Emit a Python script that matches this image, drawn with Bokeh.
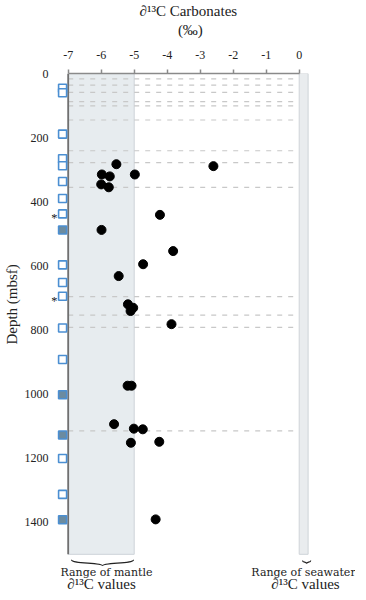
from bokeh.plotting import figure
from bokeh.models import Range1d, FixedTicker, Title
from bokeh.embed import file_html
from bokeh.resources import INLINE
from bokeh.core.properties import value

# ---------------- data ----------------
carb_d13c = [-5.54, -2.6, -5.98, -5.74, -4.98, -6.0, -5.77, -4.22, -5.99, -3.82,
             -4.73, -5.47, -5.19, -5.03, -5.11, -3.87, -5.2, -5.08, -5.61, -5.01,
             -4.74, -5.1, -4.24, -4.35]
carb_depth = [283, 289, 315, 321, 315, 346, 355, 441, 488, 554,
              595, 632, 720, 731, 741, 782, 974, 974, 1094, 1108,
              1110, 1152, 1149, 1391]

open_sample_depth = [46, 60, 189, 266, 288, 337, 390, 438, 597, 652, 695, 794, 892, 1201, 1313]
filled_sample_depth = [488, 1002, 1128, 1392]
asterisk_depth = [438, 695]

dashed_depth = [17, 36, 59, 88, 101, 145, 241, 278, 355, 696, 754, 792, 1115]

mantle_range = [-7, -5]
seawater_range = [0, 0.27]
depth_extent = [0, 1500]

x_ticks = [-7, -6, -5, -4, -3, -2, -1, 0]
x_tick_labels = ["-7", "-6", "-5", "-4", "-3", "-2", "-1", "0"]
y_ticks = [0, 200, 400, 600, 800, 1000, 1200, 1400]

SERIF = "Liberation Serif"
INK = "#222222"
NB = "\u00a0"

# ---------------- figure ----------------
p = figure(frame_width=304, frame_height=518, output_backend="svg", toolbar_location=None,
           x_range=Range1d(-7.506, 1.706), y_range=Range1d(1616, 0),
           x_axis_location="above", title=None,
           min_border_left=42, min_border_right=0, min_border_top=65, min_border_bottom=0)
p.outline_line_color = None
p.grid.visible = False

# top axis
xa = p.xaxis[0]
xa.bounds = (-7, 0)
xa.ticker = FixedTicker(ticks=x_ticks)
xa.major_label_overrides = {t: s for t, s in zip(x_ticks, x_tick_labels)}
xa.minor_tick_line_color = None
xa.major_tick_out = 4
xa.major_tick_in = 0
xa.axis_line_color = "#8a8a8a"
xa.axis_line_width = 1.5
xa.major_tick_line_color = "#8a8a8a"
xa.major_tick_line_width = 1.5
xa.major_label_text_font = SERIF
xa.major_label_text_font_size = "12px"
xa.major_label_text_color = INK
xa.major_label_standoff = 11
xa.axis_label = "(‰)" + NB * 7
xa.axis_label_text_font = SERIF
xa.axis_label_text_font_size = "15px"
xa.axis_label_text_font_style = "normal"
xa.axis_label_text_color = INK
xa.axis_label_standoff = 10

p.add_layout(Title(text="∂¹³C Carbonates", align="left", offset=88,
                   text_font=SERIF, text_font_size="15px", text_font_style="normal",
                   text_color=INK, standoff=0), "above")

# left axis
ya = p.yaxis[0]
ya.bounds = (0, 1440)
ya.ticker = FixedTicker(ticks=y_ticks)
ya.axis_line_color = None
ya.major_tick_line_color = None
ya.minor_tick_line_color = None
ya.major_tick_out = 0
ya.major_tick_in = 0
ya.major_label_text_font = SERIF
ya.major_label_text_font_size = "12px"
ya.major_label_text_color = INK
ya.major_label_standoff = 3
ya.axis_label = NB * 15 + "Depth (mbsf)"
ya.axis_label_text_font = SERIF
ya.axis_label_text_font_size = "15px"
ya.axis_label_text_font_style = "normal"
ya.axis_label_text_color = INK
ya.axis_label_standoff = 2

# shaded ranges
p.quad(left=[mantle_range[0]], right=[mantle_range[1]], top=[depth_extent[0]], bottom=[depth_extent[1]],
       fill_color="#e7ecef", line_color="#cdd3d8", line_width=1)
p.quad(left=[seawater_range[0]], right=[seawater_range[1]], top=[depth_extent[0]], bottom=[depth_extent[1]],
       fill_color="#e9ecee", line_color="#cfd4d8", line_width=1)

# dashed horizontal lines
p.segment(x0=[mantle_range[0]] * len(dashed_depth), y0=dashed_depth,
          x1=[-0.15] * len(dashed_depth), y1=dashed_depth,
          line_color="#c8c8c8", line_width=1.2, line_dash="5 6")

# left vertical rule at the start of the scale
p.segment(x0=[mantle_range[0]], y0=[depth_extent[0]], x1=[mantle_range[0]], y1=[depth_extent[1]],
          line_color="#707070", line_width=1.8)

# samples
p.scatter(x=[-7.17] * len(open_sample_depth), y=open_sample_depth, marker="square", size=8,
          fill_color="white", line_color="#4b8fd2", line_width=1.6)
p.scatter(x=[-7.17] * len(filled_sample_depth), y=filled_sample_depth, marker="square", size=8,
          fill_color="#6b8ba0", line_color="#4b8fd2", line_width=1.6)
p.text(x=[-7.42] * len(asterisk_depth), y=asterisk_depth, text=["*"] * len(asterisk_depth),
       text_font=value(SERIF), text_font_size="13px", text_align="center",
       text_baseline="middle", y_offset=4, text_color=INK)

# data points
p.scatter(x=carb_d13c, y=carb_depth, size=9, fill_color="black", line_color="black")

# braces
def brace(x_left, x_right, y_top, y_tip):
    xm = (x_left + x_right) / 2
    h = y_tip - y_top
    return dict(x0=[x_left, x_right], y0=[y_top, y_top], x1=[xm, xm], y1=[y_tip, y_tip],
                cx0=[x_left, x_right], cy0=[y_top + 0.75 * h] * 2,
                cx1=[xm, xm], cy1=[y_top + 0.35 * h] * 2)

b1 = brace(mantle_range[0] + 0.1, mantle_range[1] - 0.02, 1517, 1536)
p.bezier(line_color=INK, line_width=1.1, **b1)
b2 = brace(seawater_range[0] + 0.1, seawater_range[1] + 0.08, 1519, 1529)
p.bezier(line_color=INK, line_width=1.1, **b2)

# bottom annotations
p.text(x=[-5.84, 0.13], y=[1558, 1558], text=["Range of mantle", "Range of seawater"],
       text_font=value("DejaVu Serif"), text_font_size="11px", text_align="center",
       text_baseline="middle", text_color=INK)
p.text(x=[-5.99, 0.19], y=[1592, 1592], text=["∂¹³C values", "∂¹³C values"],
       text_font=value(SERIF), text_font_size="15px", text_align="center",
       text_baseline="middle", text_color=INK)

open("out.html", "w").write(file_html(p, INLINE))
